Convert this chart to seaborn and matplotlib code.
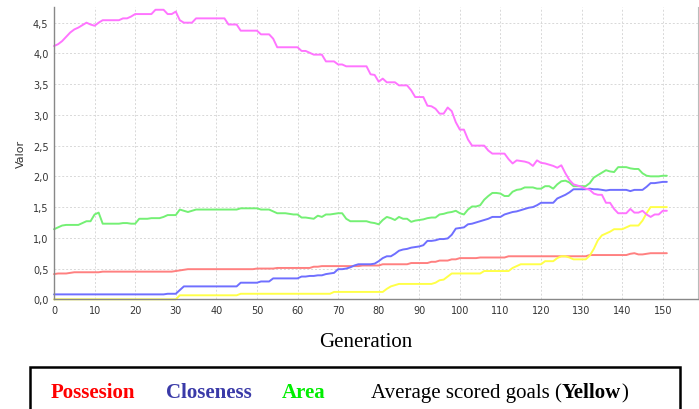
import matplotlib
matplotlib.use("Agg")
import matplotlib.pyplot as plt
import seaborn as sns
import pandas as pd
from matplotlib.ticker import FuncFormatter
from matplotlib.patches import Rectangle

generations = list(range(152))

fitness = [
    4.12, 4.15, 4.20, 4.27, 4.34, 4.39, 4.42, 4.46, 4.50, 4.47,
    4.45, 4.50, 4.54, 4.54, 4.54, 4.54, 4.54, 4.57, 4.57, 4.60,
    4.64, 4.64, 4.64, 4.64, 4.64, 4.71, 4.71, 4.71, 4.64, 4.64,
    4.68, 4.54, 4.50, 4.50, 4.50, 4.57, 4.57, 4.57, 4.57, 4.57,
    4.57, 4.57, 4.57, 4.47, 4.47, 4.47, 4.37, 4.37, 4.37, 4.37,
    4.37, 4.31, 4.31, 4.31, 4.24, 4.10, 4.10, 4.10, 4.10, 4.10,
    4.10, 4.04, 4.04, 4.01, 3.98, 3.98, 3.98, 3.87, 3.87, 3.87,
    3.82, 3.82, 3.79, 3.79, 3.79, 3.79, 3.79, 3.79, 3.66, 3.65,
    3.54, 3.59, 3.53, 3.53, 3.53, 3.48, 3.48, 3.48, 3.40, 3.29,
    3.29, 3.29, 3.15, 3.14, 3.10, 3.02, 3.02, 3.12, 3.06, 2.88,
    2.76, 2.76, 2.60, 2.50, 2.50, 2.50, 2.50, 2.42, 2.37, 2.37,
    2.37, 2.37, 2.28, 2.21, 2.26, 2.25, 2.24, 2.22, 2.17, 2.26,
    2.22, 2.21, 2.19, 2.17, 2.14, 2.18, 2.05, 1.94, 1.87, 1.85,
    1.83, 1.80, 1.78, 1.72, 1.70, 1.70, 1.57, 1.57, 1.47, 1.40,
    1.40, 1.40, 1.47, 1.41, 1.41, 1.44, 1.38, 1.34, 1.38, 1.38,
    1.44, 1.44,
]

area = [
    1.14, 1.17, 1.20, 1.21, 1.21, 1.21, 1.21, 1.24, 1.27, 1.27,
    1.38, 1.41, 1.23, 1.23, 1.23, 1.23, 1.23, 1.24, 1.24, 1.23,
    1.23, 1.31, 1.31, 1.31, 1.32, 1.32, 1.32, 1.34, 1.37, 1.37,
    1.37, 1.46, 1.44, 1.42, 1.44, 1.46, 1.46, 1.46, 1.46, 1.46,
    1.46, 1.46, 1.46, 1.46, 1.46, 1.46, 1.48, 1.48, 1.48, 1.48,
    1.48, 1.46, 1.46, 1.46, 1.43, 1.40, 1.40, 1.40, 1.39, 1.38,
    1.38, 1.33, 1.33, 1.32, 1.31, 1.36, 1.34, 1.38, 1.38, 1.39,
    1.40, 1.40, 1.31, 1.27, 1.27, 1.27, 1.27, 1.27, 1.25, 1.24,
    1.22, 1.29, 1.34, 1.32, 1.29, 1.34, 1.31, 1.31, 1.26, 1.28,
    1.29, 1.30, 1.32, 1.33, 1.33, 1.38, 1.39, 1.41, 1.42, 1.44,
    1.40, 1.38, 1.46, 1.51, 1.51, 1.53, 1.62, 1.68, 1.73, 1.73,
    1.72, 1.68, 1.68, 1.75, 1.78, 1.79, 1.82, 1.82, 1.82, 1.80,
    1.80, 1.84, 1.84, 1.80, 1.87, 1.92, 1.93, 1.90, 1.84, 1.84,
    1.84, 1.84, 1.89, 1.98, 2.02, 2.06, 2.10, 2.08, 2.07, 2.15,
    2.15, 2.15, 2.13, 2.12, 2.12, 2.05, 2.01, 2.00, 2.00, 2.00,
    2.01, 2.01,
]

closeness = [
    0.08, 0.08, 0.08, 0.08, 0.08, 0.08, 0.08, 0.08, 0.08, 0.08,
    0.08, 0.08, 0.08, 0.08, 0.08, 0.08, 0.08, 0.08, 0.08, 0.08,
    0.08, 0.08, 0.08, 0.08, 0.08, 0.08, 0.08, 0.08, 0.09, 0.09,
    0.09, 0.15, 0.21, 0.21, 0.21, 0.21, 0.21, 0.21, 0.21, 0.21,
    0.21, 0.21, 0.21, 0.21, 0.21, 0.21, 0.27, 0.27, 0.27, 0.27,
    0.27, 0.29, 0.29, 0.29, 0.34, 0.34, 0.34, 0.34, 0.34, 0.34,
    0.34, 0.37, 0.37, 0.38, 0.38, 0.39, 0.39, 0.41, 0.42, 0.43,
    0.49, 0.49, 0.50, 0.52, 0.55, 0.57, 0.57, 0.57, 0.57, 0.58,
    0.62, 0.67, 0.70, 0.70, 0.74, 0.79, 0.81, 0.82, 0.84, 0.85,
    0.86, 0.88, 0.95, 0.95, 0.96, 0.98, 0.98, 0.99, 1.05, 1.15,
    1.16, 1.17, 1.22, 1.23, 1.25, 1.27, 1.29, 1.31, 1.34, 1.34,
    1.34, 1.38, 1.40, 1.42, 1.43, 1.45, 1.47, 1.49, 1.50, 1.53,
    1.57, 1.57, 1.57, 1.57, 1.64, 1.67, 1.70, 1.74, 1.79, 1.79,
    1.79, 1.79, 1.80, 1.79, 1.79, 1.78, 1.77, 1.78, 1.78, 1.78,
    1.78, 1.78, 1.76, 1.78, 1.78, 1.78, 1.83, 1.89, 1.89, 1.90,
    1.91, 1.91,
]

possession = [
    0.41, 0.42, 0.42, 0.42, 0.43, 0.44, 0.44, 0.44, 0.44, 0.44,
    0.44, 0.44, 0.45, 0.45, 0.45, 0.45, 0.45, 0.45, 0.45, 0.45,
    0.45, 0.45, 0.45, 0.45, 0.45, 0.45, 0.45, 0.45, 0.45, 0.45,
    0.46, 0.47, 0.48, 0.49, 0.49, 0.49, 0.49, 0.49, 0.49, 0.49,
    0.49, 0.49, 0.49, 0.49, 0.49, 0.49, 0.49, 0.49, 0.49, 0.49,
    0.50, 0.50, 0.50, 0.50, 0.50, 0.51, 0.51, 0.51, 0.51, 0.51,
    0.51, 0.51, 0.51, 0.51, 0.53, 0.53, 0.54, 0.54, 0.54, 0.54,
    0.54, 0.54, 0.54, 0.54, 0.54, 0.54, 0.55, 0.55, 0.55, 0.55,
    0.55, 0.57, 0.57, 0.57, 0.57, 0.57, 0.57, 0.57, 0.59, 0.59,
    0.59, 0.59, 0.59, 0.61, 0.61, 0.63, 0.63, 0.63, 0.65, 0.65,
    0.67, 0.67, 0.67, 0.67, 0.67, 0.68, 0.68, 0.68, 0.68, 0.68,
    0.68, 0.68, 0.70, 0.70, 0.70, 0.70, 0.70, 0.70, 0.70, 0.70,
    0.70, 0.70, 0.70, 0.70, 0.70, 0.70, 0.70, 0.70, 0.70, 0.70,
    0.70, 0.70, 0.72, 0.72, 0.72, 0.72, 0.72, 0.72, 0.72, 0.72,
    0.72, 0.72, 0.74, 0.75, 0.73, 0.73, 0.74, 0.75, 0.75, 0.75,
    0.75, 0.75,
]

goals = [
    0.0, 0.0, 0.0, 0.0, 0.0, 0.0, 0.0, 0.0, 0.0, 0.0,
    0.0, 0.0, 0.0, 0.0, 0.0, 0.0, 0.0, 0.0, 0.0, 0.0,
    0.0, 0.0, 0.0, 0.0, 0.0, 0.0, 0.0, 0.0, 0.0, 0.0,
    0.0, 0.065, 0.065, 0.065, 0.065, 0.065, 0.065, 0.065, 0.065, 0.065,
    0.065, 0.065, 0.065, 0.065, 0.065, 0.065, 0.09, 0.09, 0.09, 0.09,
    0.09, 0.09, 0.09, 0.09, 0.09, 0.09, 0.09, 0.09, 0.09, 0.09,
    0.09, 0.09, 0.09, 0.09, 0.09, 0.09, 0.09, 0.09, 0.09, 0.12,
    0.12, 0.12, 0.12, 0.12, 0.12, 0.12, 0.12, 0.12, 0.12, 0.12,
    0.12, 0.12, 0.17, 0.21, 0.23, 0.25, 0.25, 0.25, 0.25, 0.25,
    0.25, 0.25, 0.25, 0.25, 0.27, 0.31, 0.32, 0.37, 0.42, 0.42,
    0.42, 0.42, 0.42, 0.42, 0.42, 0.42, 0.46, 0.46, 0.46, 0.46,
    0.46, 0.46, 0.46, 0.51, 0.54, 0.57, 0.57, 0.57, 0.57, 0.57,
    0.57, 0.62, 0.62, 0.62, 0.67, 0.70, 0.70, 0.68, 0.65, 0.65,
    0.65, 0.65, 0.71, 0.82, 0.96, 1.04, 1.07, 1.10, 1.14, 1.14,
    1.14, 1.17, 1.20, 1.20, 1.20, 1.28, 1.40, 1.50, 1.50, 1.50,
    1.50, 1.50,
]

x_ticks = list(range(0, 151, 10))
y_ticks = [0.0, 0.5, 1.0, 1.5, 2.0, 2.5, 3.0, 3.5, 4.0, 4.5]

series = [
    ("Possesion", possession, "#ff8080"),
    ("Closeness", closeness, "#6f6fff"),
    ("Area", area, "#74f074"),
    ("Goals", goals, "#ffff48"),
    ("Fitness", fitness, "#ff74ff"),
]

rows = []
for name, vals, _ in series:
    for g, v in zip(generations, vals):
        rows.append({"Generation": g, "Valor": v, "serie": name})
df = pd.DataFrame(rows)
palette = {name: col for name, _, col in series}

sns.set_style("white")
plt.rcParams["font.family"] = ["DejaVu Sans"]

fig = plt.figure(figsize=(6.99, 4.10), dpi=100)
ax = fig.add_axes([54 / 699, 1 - 300.3 / 410, (697.7 - 54) / 699, (300.3 - 8.3) / 410])

sns.lineplot(data=df, x="Generation", y="Valor", hue="serie", palette=palette,
             hue_order=[s[0] for s in series], linewidth=1.4, legend=False,
             ax=ax, estimator=None)
for ln in ax.lines:
    ln.set_clip_on(False)

ax.set_xlim(0, 158.6)
ax.set_ylim(0, 4.75)
ax.set_xticks(x_ticks)
ax.set_yticks(y_ticks)
ax.yaxis.set_major_formatter(FuncFormatter(lambda v, p: f"{v:.1f}".replace(".", ",")))
ax.grid(True, color="#d8d8d8", linestyle=(0, (2, 2)), linewidth=0.7)
ax.set_axisbelow(True)
ax.spines["top"].set_visible(False)
ax.spines["left"].set_color("#888888")
ax.spines["bottom"].set_color("#888888")
ax.spines["right"].set_color("#bbbbbb")
ax.spines["left"].set_linewidth(1.0)
ax.spines["bottom"].set_linewidth(1.0)
ax.spines["right"].set_linewidth(0.8)
ax.tick_params(axis="both", labelsize=7, colors="#444444", length=2, width=0.6,
               direction="out", pad=2)
ax.tick_params(axis="both", labelcolor="#333333")
ax.set_xlabel("")
ax.set_ylabel("Valor", fontsize=8, color="#333333", labelpad=5)

fig.text(366 / 699, 1 - 343 / 410, "Generation", family="Liberation Serif",
         fontsize=15, ha="center", va="center", color="black")

fig.patches.append(Rectangle((30 / 699, -0.05), (680 - 30) / 699, 0.05 + (410 - 367.5) / 410,
                             transform=fig.transFigure, fill=False, edgecolor="black",
                             linewidth=1.8))

base_y = 1 - 398 / 410
leg_font = dict(family="Liberation Serif", fontsize=15, va="baseline", ha="left")
fig.text(51 / 699, base_y, "Possesion", color="#ff0000", weight="bold", **leg_font)
fig.text(166 / 699, base_y, "Closeness", color="#3a3aa8", weight="bold", **leg_font)
fig.text(282 / 699, base_y, "Area", color="#00ee00", weight="bold", **leg_font)

fig.canvas.draw()
renderer = fig.canvas.get_renderer()
x_px = 371
parts = [("Average scored goals (", "normal"), ("Yellow", "bold"), (")", "normal")]
for txt, wt in parts:
    t = fig.text(x_px / 699, base_y, txt, color="black", weight=wt, **leg_font)
    bb = t.get_window_extent(renderer=renderer)
    x_px = bb.x1

fig.savefig("out.png", dpi=100)
